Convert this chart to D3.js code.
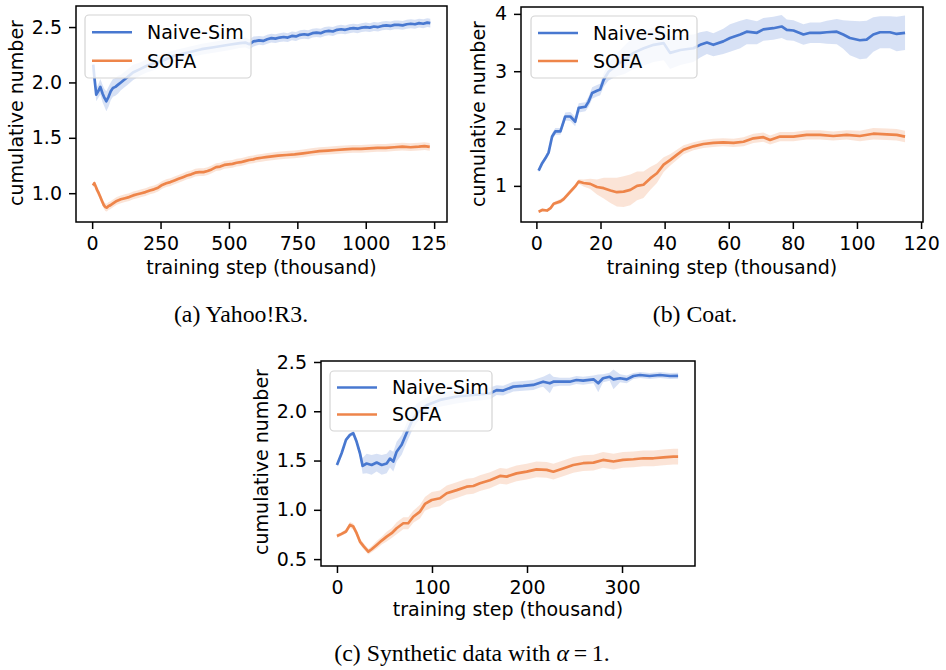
<!DOCTYPE html>
<html>
<head>
<meta charset="utf-8">
<script src="https://cdn.jsdelivr.net/npm/d3@7"></script>
<style>
  body { margin: 0; background: #fff; }
  svg text { font-family: "DejaVu Sans", sans-serif; fill: #000; }
</style>
</head>
<body>
<svg id="fig" width="946" height="670"></svg>
<script>

// ---- (a) Yahoo!R3 ----
let aNaiveX = [4, 8, 15, 22, 30, 38, 45, 52, 60, 68, 76, 85, 95, 105, 115, 130, 149, 175, 200, 250,
  300, 350, 400, 450, 500, 540, 560, 575, 590, 610, 625, 640, 655, 670, 685, 700, 715, 730, 745, 760,
  775, 790, 805, 820, 835, 850, 865, 880, 895, 910, 925, 940, 955, 970, 985, 1000, 1015, 1030, 1045, 1060,
  1075, 1090, 1105, 1120, 1135, 1150, 1165, 1180, 1195, 1210, 1225, 1236]
let aNaive = [2.16, 2.05, 1.89, 1.92, 1.96, 1.90, 1.86, 1.83, 1.87, 1.92, 1.95, 1.96, 1.98, 2.00, 2.02, 2.05, 2.09, 2.12, 2.15, 2.19,
  2.24, 2.27, 2.30, 2.32, 2.34, 2.355, 2.36, 2.345, 2.37, 2.38, 2.375, 2.39, 2.40, 2.395, 2.405, 2.41, 2.405, 2.42, 2.415, 2.43,
  2.435, 2.43, 2.445, 2.45, 2.445, 2.46, 2.465, 2.46, 2.475, 2.48, 2.475, 2.485, 2.49, 2.485, 2.495, 2.50, 2.495, 2.505, 2.50, 2.51,
  2.515, 2.51, 2.52, 2.52, 2.515, 2.525, 2.53, 2.525, 2.535, 2.53, 2.54, 2.535]
let aNaiveSd = [0.02, 0.04, 0.06, 0.06, 0.07, 0.08, 0.08, 0.09, 0.09, 0.08, 0.08, 0.08, 0.08, 0.07, 0.07, 0.07, 0.07, 0.06, 0.06, 0.06,
  0.05, 0.05, 0.05, 0.05, 0.05, 0.045, 0.045, 0.045, 0.045, 0.04, 0.04, 0.04, 0.04, 0.04, 0.04, 0.04, 0.04, 0.04, 0.04, 0.04,
  0.04, 0.04, 0.04, 0.04, 0.04, 0.04, 0.04, 0.04, 0.04, 0.04, 0.04, 0.04, 0.04, 0.04, 0.04, 0.04, 0.04, 0.04, 0.04, 0.04,
  0.04, 0.04, 0.04, 0.04, 0.04, 0.04, 0.04, 0.04, 0.04, 0.04, 0.04, 0.04]

let aSofaX = [3, 8, 13, 18, 24, 30, 36, 42, 48, 54, 60, 66, 75, 90, 105, 120, 135, 150, 165, 180,
  195, 211, 226, 241, 256, 271, 286, 301, 316, 332, 347, 362, 377, 392, 407, 422, 437, 453, 468, 483,
  498, 513, 528, 543, 558, 574, 589, 604, 619, 635, 650, 680, 710, 740, 771, 801, 831, 862, 892, 922,
  952, 983, 1013, 1043, 1073, 1104, 1134, 1164, 1194, 1215, 1234]
let aSofa = [1.07, 1.09, 1.06, 1.03, 1.0, 0.965, 0.93, 0.895, 0.875, 0.87, 0.885, 0.89, 0.905, 0.93, 0.945, 0.955, 0.965, 0.98, 0.99, 1.0,
  1.01, 1.025, 1.035, 1.05, 1.075, 1.09, 1.10, 1.115, 1.13, 1.145, 1.16, 1.17, 1.185, 1.19, 1.19, 1.20, 1.215, 1.235, 1.24, 1.255,
  1.26, 1.265, 1.275, 1.28, 1.29, 1.30, 1.305, 1.315, 1.32, 1.325, 1.33, 1.34, 1.345, 1.35, 1.36, 1.37, 1.38, 1.385, 1.39, 1.395,
  1.40, 1.40, 1.405, 1.41, 1.41, 1.415, 1.42, 1.415, 1.42, 1.425, 1.418]
let aSofaSd = [0.02, 0.02, 0.03, 0.03, 0.03, 0.03, 0.03, 0.03, 0.035, 0.035, 0.035, 0.035, 0.035, 0.035, 0.035, 0.035, 0.035, 0.035, 0.035, 0.035,
  0.035, 0.035, 0.035, 0.035, 0.035, 0.035, 0.035, 0.035, 0.035, 0.035, 0.035, 0.035, 0.035, 0.035, 0.035, 0.035, 0.035, 0.035, 0.035, 0.035,
  0.035, 0.035, 0.035, 0.035, 0.035, 0.035, 0.035, 0.035, 0.035, 0.035, 0.035, 0.035, 0.035, 0.035, 0.035, 0.035, 0.035, 0.035, 0.035, 0.035,
  0.035, 0.035, 0.035, 0.035, 0.035, 0.035, 0.035, 0.035, 0.035, 0.035, 0.035]

let aTicksX = [0, 250, 500, 750, 1000, 1250]
let aTicksY = [1.0, 1.5, 2.0, 2.5]

// ---- (b) Coat ----
let bNaiveX = [0.7, 1.8, 2.8, 3.8, 4.9, 5.9, 7.5, 9.0, 10.6, 12.1, 13.2, 15.3, 16.3, 17.4, 18.9, 19.9, 21.0, 22.5, 25.1, 27.5,
  30.3, 33.5, 36.6, 39.7, 41.7, 44.9, 49.0, 51.1, 53.2, 55.2, 58.3, 60.4, 63.6, 65.6, 68.8, 70.8, 73.9, 76.5, 78.1, 80.2,
  83.3, 85.4, 88.5, 90.6, 93.7, 95.7, 97.8, 100.9, 103.0, 105.1, 107.2, 110.3, 112.4, 115.0]
let bNaive = [1.267, 1.396, 1.48, 1.58, 1.86, 1.95, 1.95, 2.21, 2.21, 2.12, 2.36, 2.38, 2.47, 2.62, 2.66, 2.68, 2.85, 2.99, 3.11, 3.2,
  3.32, 3.4, 3.46, 3.49, 3.32, 3.37, 3.40, 3.46, 3.50, 3.46, 3.52, 3.58, 3.64, 3.69, 3.67, 3.73, 3.75, 3.78, 3.72, 3.71,
  3.64, 3.67, 3.67, 3.68, 3.69, 3.64, 3.58, 3.54, 3.55, 3.64, 3.68, 3.68, 3.65, 3.67]
let bNaiveSd = [0.03, 0.04, 0.04, 0.05, 0.06, 0.06, 0.06, 0.07, 0.08, 0.08, 0.08, 0.08, 0.09, 0.1, 0.1, 0.1, 0.12, 0.15, 0.2, 0.25,
  0.28, 0.3, 0.3, 0.3, 0.28, 0.26, 0.24, 0.22, 0.2, 0.2, 0.22, 0.24, 0.24, 0.22, 0.2, 0.2, 0.2, 0.2, 0.18, 0.18,
  0.18, 0.18, 0.18, 0.2, 0.22, 0.25, 0.3, 0.33, 0.33, 0.3, 0.28, 0.28, 0.3, 0.3]

let bSofaX = [0.7, 1.8, 3.3, 4.4, 5.4, 7.5, 8.5, 10.6, 12.1, 13.2, 14.7, 16.8, 18.9, 21.0, 23.1, 25.1, 27.2, 29.3, 31.4, 33.4,
  35.5, 37.6, 39.7, 41.7, 43.8, 45.9, 49.0, 52.1, 55.2, 58.3, 61.5, 64.6, 67.7, 70.8, 72.9, 76.0, 80.2, 84.3, 88.5, 92.6,
  96.8, 100.9, 105.1, 109.3, 112.4, 115.0]
let bSofa = [0.55, 0.58, 0.57, 0.61, 0.69, 0.73, 0.77, 0.90, 0.99, 1.075, 1.05, 1.035, 0.98, 0.96, 0.92, 0.89, 0.90, 0.93, 1.00, 1.02,
  1.13, 1.22, 1.37, 1.45, 1.54, 1.63, 1.69, 1.73, 1.75, 1.76, 1.75, 1.77, 1.83, 1.85, 1.80, 1.86, 1.86, 1.89, 1.89, 1.87,
  1.89, 1.87, 1.91, 1.90, 1.89, 1.86]
let bSofaSd = [0.02, 0.02, 0.02, 0.03, 0.03, 0.04, 0.04, 0.04, 0.04, 0.04, 0.06, 0.09, 0.13, 0.18, 0.22, 0.25, 0.27, 0.27, 0.25, 0.23,
  0.2, 0.17, 0.13, 0.1, 0.09, 0.08, 0.07, 0.07, 0.07, 0.07, 0.07, 0.08, 0.08, 0.08, 0.08, 0.08, 0.08, 0.08, 0.08, 0.08,
  0.08, 0.09, 0.1, 0.1, 0.1, 0.1]

let bTicksX = [0, 20, 40, 60, 80, 100, 120]
let bTicksY = [1, 2, 3, 4]

// ---- (c) Synthetic ----
let cNaiveX = [0, 4.9, 9.5, 13.7, 17.2, 20.7, 24.2, 27.0, 31.2, 36.5, 41.8, 47.1, 52.3, 55.8, 59.3, 62.8, 68.1, 73.3, 78.6, 83.9,
  94.4, 108.4, 126, 143.5, 161, 168, 175, 185.6, 196, 206.6, 213.7, 217, 224, 227.7, 234.7, 245, 252, 259, 270, 275,
  280, 287, 291, 298, 305, 312, 319, 329, 340, 350.5, 359]
let cNaive = [1.455, 1.574, 1.71, 1.76, 1.777, 1.69, 1.574, 1.445, 1.47, 1.455, 1.48, 1.455, 1.47, 1.52, 1.49, 1.59, 1.66, 1.78, 1.895, 1.98,
  2.06, 2.115, 2.15, 2.165, 2.18, 2.215, 2.21, 2.25, 2.257, 2.267, 2.29, 2.30, 2.284, 2.30, 2.30, 2.30, 2.317, 2.31, 2.324, 2.284,
  2.335, 2.35, 2.324, 2.335, 2.324, 2.358, 2.368, 2.358, 2.368, 2.358, 2.36]
let cNaiveSd = [0.02, 0.02, 0.02, 0.02, 0.02, 0.03, 0.04, 0.08, 0.1, 0.1, 0.09, 0.1, 0.1, 0.09, 0.1, 0.1, 0.1, 0.1, 0.1, 0.1,
  0.08, 0.07, 0.07, 0.06, 0.06, 0.05, 0.05, 0.05, 0.05, 0.05, 0.05, 0.05, 0.1, 0.05, 0.04, 0.04, 0.04, 0.04, 0.04, 0.09,
  0.04, 0.04, 0.1, 0.04, 0.04, 0.03, 0.03, 0.03, 0.03, 0.03, 0.03]

let cSofaX = [0, 4.9, 9.5, 13.7, 17.2, 20.7, 24.2, 28.4, 33, 36.5, 41.8, 47.1, 52.3, 57.6, 62.8, 69.8, 75, 80.3, 87.4, 92.6,
  99.7, 108.4, 115.5, 126, 136.5, 143.5, 150.5, 161, 171.6, 178.6, 189, 199.7, 210, 220.7, 227.7, 238, 248.7, 259, 270, 280,
  291, 301, 312, 322.5, 333, 343.5, 354, 359]
let cSofa = [0.735, 0.756, 0.78, 0.847, 0.83, 0.763, 0.678, 0.627, 0.576, 0.60, 0.644, 0.688, 0.728, 0.763, 0.813, 0.864, 0.864, 0.93, 0.982, 1.06,
  1.10, 1.117, 1.168, 1.20, 1.235, 1.242, 1.27, 1.30, 1.344, 1.337, 1.37, 1.387, 1.41, 1.405, 1.387, 1.42, 1.455, 1.473, 1.479, 1.506,
  1.49, 1.506, 1.513, 1.523, 1.523, 1.533, 1.54, 1.54]
let cSofaSd = [0.02, 0.02, 0.02, 0.03, 0.03, 0.03, 0.03, 0.03, 0.03, 0.03, 0.04, 0.04, 0.05, 0.05, 0.06, 0.06, 0.06, 0.06, 0.07, 0.07,
  0.08, 0.08, 0.08, 0.08, 0.08, 0.08, 0.08, 0.08, 0.08, 0.08, 0.08, 0.08, 0.08, 0.08, 0.08, 0.08, 0.08, 0.08, 0.08, 0.08,
  0.08, 0.08, 0.08, 0.08, 0.08, 0.08, 0.08, 0.08]

let cTicksX = [0, 100, 200, 300]
let cTicksY = [0.5, 1.0, 1.5, 2.0, 2.5]

let seriesNames = ["Naive-Sim", "SOFA"]
let naiveColor = "#4878d0"
let sofaColor = "#ee854a"

let svg = d3.select("#fig")

// layout of the three subplots (pixel boxes picked to match the figure)
let panels = [
  { box: [76, 6, 447, 222], xDom: [-59, 1297], yDom: [0.74, 2.69], xTicks: aTicksX, yTicks: aTicksY,
    yFmt: d3.format(".1f"), clipRight: 448, legend: [85, 15, 166, 63], ylab: [23, 113], xlabY: 274,
    caption: [241, 322], captionText: "(a) Yahoo!R3.",
    series: [[aNaiveX, aNaive, aNaiveSd, naiveColor], [aSofaX, aSofa, aSofaSd, sofaColor]] },
  { box: [521, 7, 923, 222], xDom: [-4.8, 120.6], yDom: [0.37, 4.12], xTicks: bTicksX, yTicks: bTicksY,
    yFmt: d3.format("d"), clipRight: null, legend: [531, 16, 166, 62], ylab: [485, 114], xlabY: 274,
    caption: [695, 322], captionText: "(b) Coat.",
    series: [[bNaiveX, bNaive, bNaiveSd, naiveColor], [bSofaX, bSofa, bSofaSd, sofaColor]] },
  { box: [321, 361, 695, 566], xDom: [-16.8, 376.8], yDom: [0.43, 2.51], xTicks: cTicksX, yTicks: cTicksY,
    yFmt: d3.format(".1f"), clipRight: null, legend: [330, 371, 162, 60], ylab: [268, 462], xlabY: 616,
    caption: [472, 661], captionText: null,
    series: [[cNaiveX, cNaive, cNaiveSd, naiveColor], [cSofaX, cSofa, cSofaSd, sofaColor]] }
]

panels.forEach(function (p, pi) {
  let [x0, y0, x1, y1] = p.box
  let g = svg.append("g")

  // panel (a) is cut off on its right side in the source figure
  if (p.clipRight) {
    svg.append("clipPath").attr("id", "clip" + pi)
      .append("rect").attr("x", 0).attr("y", 0).attr("width", p.clipRight).attr("height", 300)
    g.attr("clip-path", `url(#clip${pi})`)
  }

  let x = d3.scaleLinear().domain(p.xDom).range([x0, x1])
  let y = d3.scaleLinear().domain(p.yDom).range([y1, y0])

  // bands + lines
  p.series.forEach(function ([xs, vals, sds, color]) {
    let rows = xs.map((d, i) => ({ x: d, v: vals[i], s: sds[i] }))
    let area = d3.area()
      .x(d => x(d.x))
      .y0(d => y(d.v - d.s))
      .y1(d => y(d.v + d.s))
    let line = d3.line()
      .x(d => x(d.x))
      .y(d => y(d.v))
    g.append("path")
      .attr("d", area(rows))
      .style("fill", color)
      .style("fill-opacity", 0.22)
      .style("stroke", "none")
    g.append("path")
      .attr("d", line(rows))
      .style("fill", "none")
      .style("stroke", color)
      .style("stroke-width", 2.7)
      .style("stroke-linejoin", "round")
  })

  // axes
  let xAxis = d3.axisBottom(x)
    .tickValues(p.xTicks)
    .tickSize(7)
    .tickPadding(8)
    .tickFormat(d3.format("d"))
  let yAxis = d3.axisLeft(y)
    .tickValues(p.yTicks)
    .tickSize(7)
    .tickPadding(7)
    .tickFormat(p.yFmt)

  let gx = g.append("g")
    .attr("transform", `translate(0,${y1})`)
    .call(xAxis)
  let gy = g.append("g")
    .attr("transform", `translate(${x0},0)`)
    .call(yAxis)
  ;[gx, gy].forEach(function (ax) {
    ax.select(".domain").remove()
    ax.selectAll("line").style("stroke", "#000").style("stroke-width", 1.5)
    ax.selectAll("text")
      .style("font-family", "'DejaVu Sans', sans-serif")
      .style("font-size", "19px")
      .style("fill", "#000")
  })

  // frame
  g.append("rect")
    .attr("x", x0).attr("y", y0)
    .attr("width", x1 - x0).attr("height", y1 - y0)
    .style("fill", "none")
    .style("stroke", "#000")
    .style("stroke-width", 1.5)

  // axis titles
  g.append("text")
    .attr("x", (x0 + x1) / 2)
    .attr("y", p.xlabY)
    .attr("text-anchor", "middle")
    .style("font-size", "19px")
    .text("training step (thousand)")
  g.append("text")
    .attr("transform", `translate(${p.ylab[0]},${p.ylab[1]}) rotate(-90)`)
    .attr("text-anchor", "middle")
    .style("font-size", "19px")
    .text("cumulative number")

  // legend
  let [lx, ly, lw, lh] = p.legend
  let lg = g.append("g")
  lg.append("rect")
    .attr("x", lx).attr("y", ly)
    .attr("width", lw).attr("height", lh)
    .attr("rx", 4)
    .style("fill", "#fff")
    .style("fill-opacity", 0.8)
    .style("stroke", "#d4d4d4")
    .style("stroke-width", 1.2)
  let rowGap = (lh - 6) / 2
  seriesNames.forEach(function (name, i) {
    let ry = ly + lh / 2 - rowGap / 2 + i * rowGap
    lg.append("line")
      .attr("x1", lx + 7).attr("x2", lx + 47)
      .attr("y1", ry).attr("y2", ry)
      .style("stroke", i == 0 ? naiveColor : sofaColor)
      .style("stroke-width", 2.7)
    lg.append("text")
      .attr("x", lx + 62)
      .attr("y", ry)
      .attr("dy", "0.36em")
      .style("font-size", "19px")
      .text(name)
  })

  // caption
  let cap = svg.append("text")
    .attr("x", p.caption[0])
    .attr("y", p.caption[1])
    .attr("text-anchor", "middle")
    .style("font-family", "'Liberation Serif', 'Times New Roman', serif")
    .style("font-size", "23.8px")
  if (p.captionText) {
    cap.text(p.captionText)
  } else {
    cap.append("tspan").text("(c) Synthetic data with ")
    cap.append("tspan").style("font-style", "italic").text("\u03b1")
    cap.append("tspan").text("\u2009=\u20091.")
  }
})

</script>
</body>
</html>
